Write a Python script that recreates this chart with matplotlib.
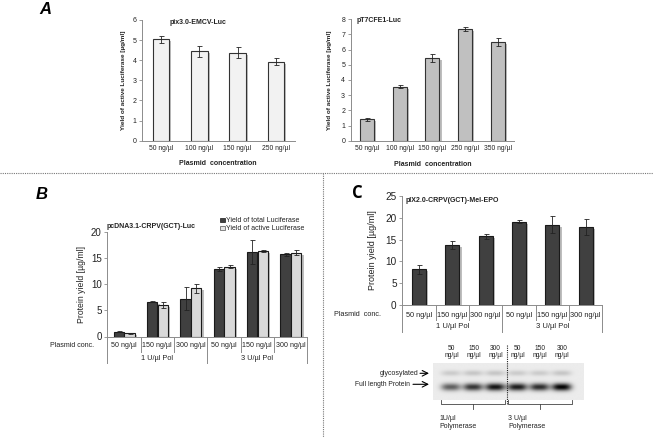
import matplotlib
matplotlib.use('Agg')
import matplotlib.pyplot as plt
import matplotlib.patheffects as pe
import matplotlib.transforms as mtransforms
from matplotlib.patches import Patch
import numpy as np

plt.rcParams['font.family'] = ['Liberation Sans', 'DejaVu Sans']

W, H = 653, 437

# ---------------- data ----------------
a1_categories = ['50 ng/µl', '100 ng/µl', '150 ng/µl', '250 ng/µl']
a1_values = [5.05, 4.45, 4.38, 3.92]
a1_errors = [0.17, 0.28, 0.27, 0.17]

a2_categories = ['50 ng/µl', '100 ng/µl', '150 ng/µl', '250 ng/µl', '350 ng/µl']
a2_values = [1.42, 3.55, 5.45, 7.35, 6.52]
a2_errors = [0.10, 0.10, 0.27, 0.13, 0.28]

bc_categories = ['50 ng/µl', '150 ng/µl', '300 ng/µl', '50 ng/µl', '150 ng/µl', '300 ng/µl']
bc_groups = ['1 U/µl Pol', '3 U/µl Pol']

b_total = [0.9, 6.6, 7.2, 12.9, 16.2, 15.7]
b_total_err = [0.1, 0.1, 2.2, 0.4, 2.3, 0.3]
b_active = [0.6, 6.0, 9.2, 13.3, 16.4, 16.0]
b_active_err = [0.05, 0.5, 0.9, 0.25, 0.2, 0.5]

c_values = [8.2, 13.7, 15.75, 19.1, 18.4, 17.9]
c_errors = [1.0, 0.9, 0.6, 0.3, 1.9, 1.9]

gel_lanes = ['50\nng/µl', '150\nng/µl', '300\nng/µl', '50\nng/µl', '150\nng/µl', '300\nng/µl']
gel_full = [0.55, 0.72, 0.85, 0.82, 0.75, 0.92]
gel_glyco = [0.13, 0.15, 0.15, 0.13, 0.13, 0.15]

# ---------------- figure ----------------
fig = plt.figure(figsize=(W / 100, H / 100), dpi=100)
fig.patch.set_facecolor('white')

ov = fig.add_axes([0, 0, 1, 1], zorder=10)
ov.set_xlim(0, W)
ov.set_ylim(H, 0)
ov.axis('off')
ov.patch.set_alpha(0)


def add_ax(x0, x1, ytop, ybot):
    a = fig.add_axes([x0 / W, 1 - ybot / H, (x1 - x0) / W, (ybot - ytop) / H])
    a.patch.set_alpha(0)
    return a


shadow = [pe.SimplePatchShadow(offset=(1.6, -1.4), shadow_rgbFace='#8a8a8a', alpha=0.55), pe.Normal()]
ekw = dict(ecolor='#222222', elinewidth=0.6, capsize=1.8, capthick=0.6)
TXT = '#222222'
SP = '#8c8c8c'


def style_axes(a, ticksize):
    for s in ['top', 'right']:
        a.spines[s].set_visible(False)
    for s in ['left', 'bottom']:
        a.spines[s].set_color(SP)
        a.spines[s].set_linewidth(0.7)
    a.tick_params(axis='y', direction='out', length=2, width=0.6, color=SP,
                  labelsize=ticksize, labelcolor=TXT, pad=2)


# ---------- Panel A left ----------
ax = add_ax(141.85, 295.0, 20.0, 140.7)
x = np.arange(len(a1_values))
ax.bar(x, a1_values, width=0.43, color='#f2f2f2', edgecolor='#333333', linewidth=0.8,
       yerr=a1_errors, error_kw=ekw, path_effects=shadow)
ax.set_xlim(-0.5, len(a1_values) - 0.5)
ax.set_ylim(0, 6)
ax.set_yticks(range(0, 7))
style_axes(ax, 5)
ax.set_xticks(x, a1_categories)
ax.tick_params(axis='x', length=0, labelsize=4.9, labelcolor=TXT, pad=3)
ax.set_ylabel('Yield of active Luciferase [µg/ml]', fontsize=4.6, fontweight='bold', color=TXT)
ax.yaxis.set_label_coords(-(141.85 - 126) / (295 - 141.85), 0.5)
ov.text(170, 23, 'pix3.0-EMCV-Luc', fontsize=5, fontweight='bold', color=TXT, ha='left', va='center')
ov.text(218, 163.3, 'Plasmid  concentration', fontsize=5, fontweight='bold', color=TXT, ha='center', va='center')

# ---------- Panel A right ----------
ax = add_ax(350.7, 514.0, 19.3, 140.7)
x = np.arange(len(a2_values))
ax.bar(x, a2_values, width=0.43, color='#c0c0c0', edgecolor='#333333', linewidth=0.8,
       yerr=a2_errors, error_kw=ekw, path_effects=shadow)
ax.set_xlim(-0.5, len(a2_values) - 0.5)
ax.set_ylim(0, 8)
ax.set_yticks(range(0, 9))
style_axes(ax, 5)
ax.set_xticks(x, a2_categories)
ax.tick_params(axis='x', length=0, labelsize=4.9, labelcolor=TXT, pad=3)
ax.set_ylabel('Yield of active Luciferase [µg/ml]', fontsize=4.6, fontweight='bold', color=TXT)
ax.yaxis.set_label_coords(-(350.7 - 332) / (514 - 350.7), 0.5)
ov.text(356.7, 20.7, 'pT7CFE1-Luc', fontsize=5, fontweight='bold', color=TXT, ha='left', va='center')
ov.text(433, 164, 'Plasmid  concentration', fontsize=5, fontweight='bold', color=TXT, ha='center', va='center')


def multilevel(a, ytop_px, ybot_px, cat_y, grp_y, cat_sep, grp_sep, fs_cat, fs_grp):
    hpx = ybot_px - ytop_px
    tr = mtransforms.blended_transform_factory(a.transData, a.transAxes)
    n = len(bc_categories)
    for i, lab in enumerate(bc_categories):
        a.text(i, -(cat_y - ybot_px) / hpx, lab, transform=tr, ha='center', va='center',
               fontsize=fs_cat, color=TXT)
    for k in range(n + 1):
        xb = k - 0.5
        depth = grp_sep if k % 3 == 0 else cat_sep
        a.plot([xb, xb], [0, -(depth - ybot_px) / hpx], transform=tr, color=SP,
               lw=0.7, clip_on=False)
    for g, lab in enumerate(bc_groups):
        a.text(g * 3 + 1, -(grp_y - ybot_px) / hpx, lab, transform=tr, ha='center', va='center',
               fontsize=fs_grp, color=TXT)


# ---------- Panel B ----------
bx0, bx1, bt, bb = 107.3, 307.3, 231.7, 336.5
ax = add_ax(bx0, bx1, bt, bb)
x = np.arange(len(b_total))
ax.bar(x - 0.15, b_total, width=0.31, color='#404040', edgecolor='#1a1a1a', linewidth=0.8,
       yerr=b_total_err, error_kw=ekw, path_effects=shadow)
ax.bar(x + 0.17, b_active, width=0.31, color='#d9d9d9', edgecolor='#1a1a1a', linewidth=0.8,
       yerr=b_active_err, error_kw=ekw, path_effects=shadow)
ax.set_xlim(-0.5, len(b_total) - 0.5)
ax.set_ylim(0, 20)
ax.set_yticks([0, 5, 10, 15, 20])
style_axes(ax, 7)
ax.set_xticks([])
ax.set_ylabel('Protein yield [µg/ml]', fontsize=6.2, color=TXT)
ax.yaxis.set_label_coords(-(bx0 - 86) / (bx1 - bx0), 0.5)
multilevel(ax, bt, bb, 345.5, 358.3, 351.7, 362.7, 5.1, 5.3)
ov.text(72, 345.5, 'Plasmid conc.', fontsize=5.1, color=TXT, ha='center', va='center')
ov.text(106.7, 226, 'pcDNA3.1-CRPV(GCT)-Luc', fontsize=5, fontweight='bold', color=TXT,
        ha='left', va='center')
handles = [Patch(facecolor='#404040', edgecolor='#1a1a1a', linewidth=0.5),
           Patch(facecolor='#e6e6e6', edgecolor='#555555', linewidth=0.5)]
ax.legend(handles, ['Yield of total Luciferase', 'Yield of active Luciferase'],
          loc='upper left', bbox_to_anchor=((220.5 - bx0) / (bx1 - bx0), (bb - 217.5) / (bb - bt)),
          frameon=False, fontsize=5, handlelength=0.6, handleheight=0.6, handletextpad=0.25,
          labelspacing=0.12, borderpad=0, borderaxespad=0, labelcolor=TXT)

# ---------- Panel C ----------
cx0, cx1, ct, cb = 402.3, 602.3, 196.0, 305.0
ax = add_ax(cx0, cx1, ct, cb)
x = np.arange(len(c_values))
ax.bar(x, c_values, width=0.42, color='#404040', edgecolor='#1a1a1a', linewidth=0.8,
       yerr=c_errors, error_kw=ekw, path_effects=shadow)
ax.set_xlim(-0.5, len(c_values) - 0.5)
ax.set_ylim(0, 25)
ax.set_yticks([0, 5, 10, 15, 20, 25])
style_axes(ax, 7.2)
ax.set_xticks([])
ax.set_ylabel('Protein yield [µg/ml]', fontsize=6.5, color=TXT)
ax.yaxis.set_label_coords(-(cx0 - 377) / (cx1 - cx0), 0.5)
multilevel(ax, ct, cb, 315.5, 326.3, 320, 331.7, 5.3, 5.5)
ov.text(357.5, 314.5, 'Plasmid  conc.', fontsize=5.2, color=TXT, ha='center', va='center')
ov.text(406, 200.5, 'plX2.0-CRPV(GCT)-Mel-EPO', fontsize=5, fontweight='bold', color=TXT,
        ha='left', va='center')

# ---------- Gel ----------
gx0, gx1, gt, gb = 432.7, 583.0, 362.7, 400.0
gax = add_ax(gx0, gx1, gt, gb)
nx, ny = 300, 80
gxs = np.linspace(0, 6.8, nx)
gys = np.linspace(0, 1, ny)
XX, YY = np.meshgrid(gxs, gys)
img = np.full((ny, nx), 0.925)
for i in range(len(gel_full)):
    c = 0.8 + i * 1.0
    lane = np.exp(-np.abs((XX - c) / 0.44) ** 3)
    img -= gel_full[i] * lane * np.exp(-((YY - 0.66) / 0.10) ** 2)
    img -= gel_glyco[i] * lane * np.exp(-((YY - 0.29) / 0.075) ** 2)
gax.imshow(np.clip(img, 0, 1), cmap='gray', vmin=0, vmax=1, aspect='auto',
           extent=[0, 6.8, 1, 0], interpolation='bilinear')
gax.set_xlim(0, 6.8)
gax.set_ylim(1, 0)
gax.axis('off')
gtr = mtransforms.blended_transform_factory(gax.transData, ov.transData)
for i, lab in enumerate(gel_lanes):
    gax.text(0.8 + i * 1.0 + 0.05, 352, lab, transform=gtr, ha='center', va='center',
             fontsize=4.8, color=TXT, linespacing=1.05)

# dotted line in gel
ov.plot([506.7, 506.7], [345, 405], color='#222222', lw=0.8, ls=(0, (1, 1)))
# brackets
for (l, r) in [(440.7, 505.0), (507.5, 571.7)]:
    m = (l + r) / 2
    ov.plot([l, l, r, r], [400, 404, 404, 400], color='#444444', lw=0.6)
    ov.plot([m, m], [404, 409], color='#444444', lw=0.6)
ov.text(439, 422.5, '1U/µl\nPolymerase', fontsize=5, color=TXT, ha='left', va='center', linespacing=1.3)
ov.text(508, 422.5, '3 U/µl\nPolymerase', fontsize=5, color=TXT, ha='left', va='center', linespacing=1.3)

# arrows + labels
ov.text(418, 373.3, 'glycosylated', fontsize=5, color=TXT, ha='right', va='center')
ov.annotate('', xy=(429, 373.3), xytext=(420, 373.3),
            arrowprops=dict(arrowstyle='->', lw=0.8, color='black', shrinkA=0, shrinkB=0))
ov.text(410, 384.3, 'Full length Protein', fontsize=4.9, color=TXT, ha='right', va='center')
ov.annotate('', xy=(429, 384.3), xytext=(413, 384.3),
            arrowprops=dict(arrowstyle='->', lw=0.8, color='black', shrinkA=0, shrinkB=0))

# separators
ov.plot([0, W], [172.5, 172.5], color='#777777', lw=0.8, ls=(0, (1, 1)))
ov.plot([323, 323], [172.5, H], color='#777777', lw=0.8, ls=(0, (1, 1)))

# panel letters
ov.text(45, 9.5, 'A', fontsize=12, fontweight='bold', fontstyle='italic', ha='center', va='center', color='black')
ov.text(42, 194.5, 'B', fontsize=12, fontweight='bold', fontstyle='italic', ha='center', va='center', color='black')
ov.text(357.5, 193.5, 'C', fontsize=12, fontweight='bold', ha='center', va='center', color='black',
        family=['Open Sans', 'DejaVu Sans'])

fig.savefig('out.png', dpi=100, facecolor='white')
